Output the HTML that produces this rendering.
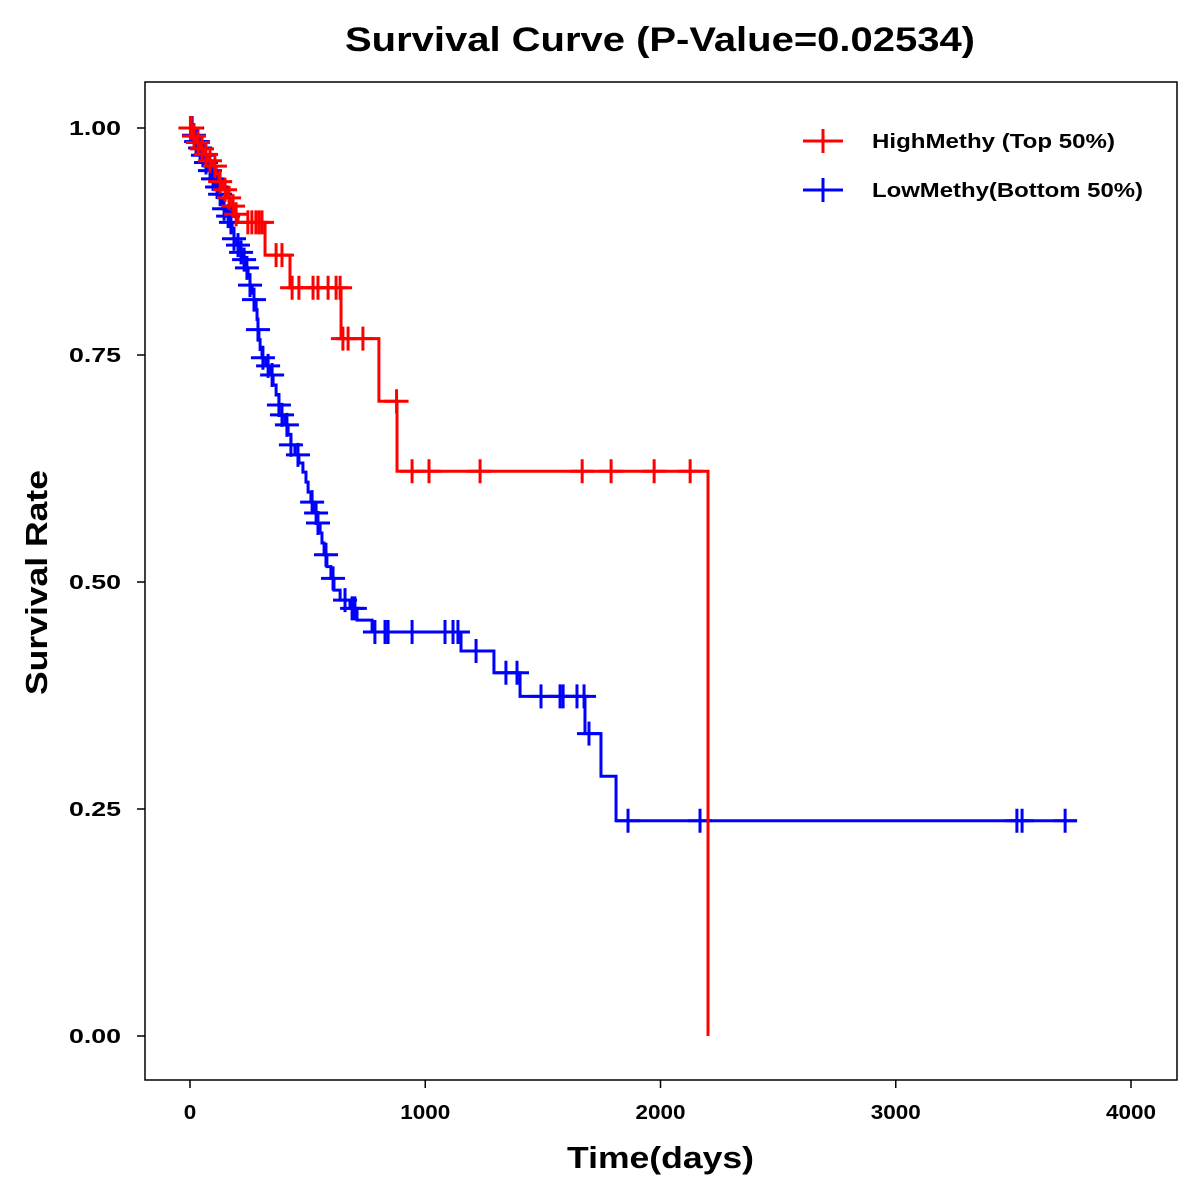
<!DOCTYPE html>
<html><head><meta charset="utf-8"><style>
body{margin:0;background:#fff;}
svg{display:block;font-family:"Liberation Sans",Arial,sans-serif;font-weight:bold;}
</style></head><body>
<svg id="chart" width="1200" height="1200" viewBox="0 0 1200 1200">
<rect width="1200" height="1200" fill="#fff"/>
<text x="345" y="51" font-size="34" textLength="630" lengthAdjust="spacingAndGlyphs">Survival Curve (P-Value=0.02534)</text>
<rect x="145" y="82" width="1032" height="998" fill="none" stroke="#000" stroke-width="1.5"/>
<g id="xaxis"></g>
<g id="yaxis"></g>
<text x="567" y="1168" font-size="31" textLength="187" lengthAdjust="spacingAndGlyphs">Time(days)</text>
<text x="-695" y="47" font-size="31" textLength="225" lengthAdjust="spacingAndGlyphs" transform="rotate(-90)">Survival Rate</text>
<g id="series"></g>
<g>
<g>
<line x1="803" y1="141" x2="843" y2="141" stroke="#f00" stroke-width="3"/><line x1="823" y1="129" x2="823" y2="153" stroke="#f00" stroke-width="3"/>
<text x="872" y="148" font-size="20" textLength="243" lengthAdjust="spacingAndGlyphs">HighMethy (Top 50%)</text></g>
<g>
<line x1="803" y1="190" x2="843" y2="190" stroke="#00f" stroke-width="3"/><line x1="823" y1="178" x2="823" y2="202" stroke="#00f" stroke-width="3"/>
<text x="872" y="197" font-size="20" textLength="271" lengthAdjust="spacingAndGlyphs">LowMethy(Bottom 50%)</text></g>
</g>
</svg>
<script>
const xTicks=[0,1000,2000,3000,4000];
const yTicks=[0,0.25,0.5,0.75,1.0];
const yTickLabels=["0.00","0.25","0.50","0.75","1.00"];
const highTimes=[0,9,26,43,60,77,94,111,123,136,153,170,187,204,319,425,642,803,880,2202];
const highSurv=[1,0.991,0.984,0.977,0.971,0.964,0.958,0.950,0.941,0.932,0.923,0.914,0.905,0.896,0.860,0.824,0.768,0.699,0.622,0];
const highCensor=[2,5,17,34,51,68,85,106,128,149,166,183,196,246,263,280,293,306,366,391,434,463,523,544,587,621,638,650,672,735,878,944,1016,1233,1667,1790,1973,2126];
const highEnd=2202;
const lowTimes=[0,13,26,38,51,64,81,94,106,119,132,140,153,166,179,187,200,213,225,234,247,255,264,272,281,285,289,293,298,306,323,340,353,366,378,391,404,417,429,446,463,480,493,502,514,527,540,553,561,570,582,599,612,638,680,710,774,1152,1292,1403,1679,1747,1811];
const lowSurv=[1,0.992,0.985,0.978,0.970,0.962,0.953,0.944,0.935,0.927,0.920,0.911,0.903,0.896,0.887,0.878,0.871,0.863,0.855,0.846,0.837,0.827,0.818,0.811,0.800,0.789,0.778,0.767,0.756,0.747,0.738,0.728,0.717,0.706,0.695,0.684,0.673,0.662,0.651,0.640,0.631,0.621,0.610,0.599,0.588,0.576,0.565,0.554,0.543,0.530,0.517,0.504,0.491,0.480,0.471,0.458,0.445,0.424,0.400,0.374,0.333,0.286,0.237];
const lowCensor=[2,4,9,17,26,34,43,55,68,85,98,115,128,145,162,174,187,204,217,230,242,255,272,289,310,332,349,378,391,412,429,459,519,536,544,578,608,659,689,701,786,829,842,944,1084,1118,1139,1216,1343,1390,1492,1573,1586,1645,1675,1696,1862,2168,3515,3537,3720];
const lowEnd=3770;

const NS="http://www.w3.org/2000/svg";
const xs=t=>190+t*0.23525;
const ys=s=>1036-s*908;
function mk(tag,attrs,parent){const e=document.createElementNS(NS,tag);for(const k in attrs)e.setAttribute(k,attrs[k]);parent.appendChild(e);return e;}
const xa=document.getElementById('xaxis'),ya=document.getElementById('yaxis'),sg=document.getElementById('series');
xTicks.forEach(v=>{
  const g=mk('g',{},xa);
  
  
  mk('line',{x1:xs(v),x2:xs(v),y1:1080,y2:1088,stroke:'#000','stroke-width':1.5},g);
  const s=String(v);
  const w=s.length*12.5;
  const t=mk('text',{x:xs(v)-w/2,y:1119,'font-size':20,textLength:w,lengthAdjust:'spacingAndGlyphs'},g);t.textContent=s;
});
yTicks.forEach((v,i)=>{
  const g=mk('g',{},ya);
  
  
  mk('line',{x1:137,x2:145,y1:ys(v),y2:ys(v),stroke:'#000','stroke-width':1.5},g);
  const t=mk('text',{x:69,y:ys(v)+7,'font-size':20,textLength:52,lengthAdjust:'spacingAndGlyphs'},g);t.textContent=yTickLabels[i];
});
function survAt(times,surv,t){let s=surv[0];for(let i=0;i<times.length;i++){if(times[i]<=t)s=surv[i];}return s;}
function draw(times,surv,cens,end,color,name){
  let d=`M${xs(times[0])},${ys(surv[0])}`;
  for(let i=1;i<times.length;i++){d+=` H${xs(times[i])} V${ys(surv[i])}`;}
  d+=` H${xs(end)}`;
  const p=mk('path',{d:d,fill:'none',stroke:color,'stroke-width':3},sg);
  
  
  cens.forEach(c=>{
    const x=xs(c),y=ys(survAt(times,surv,c));
    const m=mk('path',{d:`M${x-12},${y} H${x+12} M${x},${y-12} V${y+12}`,stroke:color,'stroke-width':3,fill:'none'},sg);
    
    
  });
}
draw(lowTimes,lowSurv,lowCensor,lowEnd,'#00f','low-methy');
draw(highTimes,highSurv,highCensor,highEnd,'#f00','high-methy');
</script>
</body></html>
